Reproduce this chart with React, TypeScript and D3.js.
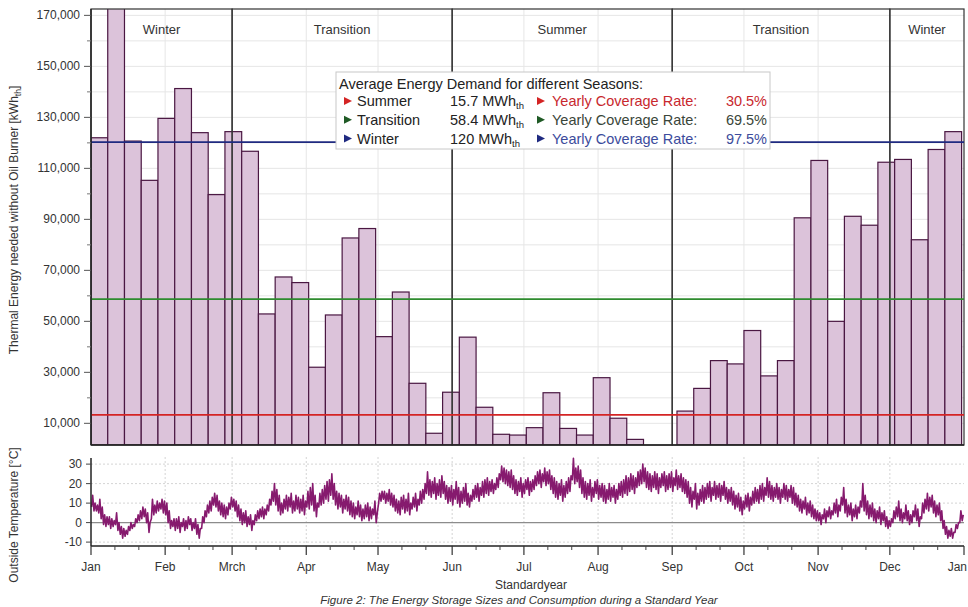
import * as d3 from "d3";

// weekly thermal energy demand [kWh_th], 52 weeks starting Jan 1
const weeklyDemand = [
  122000, 176000, 120700, 105300, 129600, 141300, 124000, 99700, 124400, 116700,
  52900, 67400, 65200, 32000, 52500, 82700, 86400, 44000, 61500, 25700,
  6100, 22200, 43800, 16300, 5700, 5400, 8300, 22000, 8000, 5400,
  27900, 12000, 3700, 0, 0, 14800, 23700, 34600, 33300, 46400,
  28600, 34600, 90600, 113100, 50000, 91200, 87700, 112400, 113500, 82000,
  117400, 124400,
];

// daily outside temperature, low / high [°C]
const tempLow = [
  8, 6, 6, 5, 2, -1, -2, -1, -3, -2,
  -1, -4, -6, -8, -7, -6, -4, -3, -2, 0,
  1, 2, 3, 0, -5, 2, 4, 5, 6, 7, 5, 4,
  0, -3, -2, -4, -3, -5, -2, -4, -3, -1, -4, -3, -6, -8,
  -3, 0, 3, 5, 6, 9, 8, 6, 4, 3, 2, 4, 7, 8,
  6, 3, 1, -1, 0, -2, -1, -4, -1, 1, 2, 3, 2, 4,
  6, 9, 11, 9, 6, 4, 5, 7, 6, 8, 5, 6, 7, 5, 6, 4, 8, 7, 9, 6, 3, 8,
  9, 10, 12, 11, 14, 12, 9, 7, 8, 5, 7, 6, 4,
  3, 2, 4, 3, 1, 2, 3, 1, 2, 4, 0,
  10, 11, 12, 10, 11, 9, 8,
  6, 5, 4, 7, 5, 6, 4, 7, 8, 6, 9, 10, 12,
  15, 14, 13, 15, 12, 14, 13, 15, 12, 10,
  11, 9, 12, 10, 8, 10, 11, 9, 8,
  11, 12, 13, 11, 14, 13, 15, 14, 16, 15, 17, 18,
  22, 21, 20, 19, 18, 17,
  15, 14, 16, 13, 15, 17, 14, 16, 17,
  19, 20, 18, 21, 19, 20, 17, 15,
  13, 12, 14, 11, 13, 15, 16,
  22, 20, 21, 18,
  15, 13, 12, 14, 11, 13, 15, 12, 13,
  11, 10, 12, 11, 13, 10, 12, 14,
  13, 15, 14, 16, 17, 15, 18, 19, 20, 21, 18, 17,
  16, 18, 17, 15, 18, 19, 16, 17, 18, 16, 19, 17, 18, 16, 15, 13,
  10, 8, 12, 7, 9, 11, 10,
  12, 13, 11, 14, 12, 13, 11, 14, 12, 10, 11,
  9, 7, 8, 6, 4, 7, 8, 6,
  9, 10, 11, 10, 12, 11, 14, 13, 12,
  11, 13, 12, 10, 13, 12, 11, 13, 10, 9, 8,
  6, 5, 7, 4, 5, 3, 2, 1,
  1, -1, 2, 0, 3, 2,
  4, 5, 3, 6, 9,
  5, 3, 4, 1, 3, 2, 5, 8,
  6, 4, 2, 3, 1, 0, 2, -1, 1, -2, -3, -2,
  0, 2, 3, 1, 0, 2, 1, -1, 0, 3, 1, -2, 2,
  5, 7, 6, 8, 5, 3, 4, 1,
  -3, -6, -8, -7, -8, -5, -3,
  0, 1,
];
const tempHigh = [
  14, 10, 9, 12, 8, 4, 3, 3, 2, 1,
  5, 0, -2, -3, -4, -2, 0, -1, 2, 4,
  6, 8, 7, 5, 0, 12, 9, 11, 10, 12, 11, 10,
  6, 1, 2, 2, 3, 0, 2, 1, 3, 2, 0, 2, -1, -3,
  3, 6, 9, 11, 13, 15, 14, 11, 10, 9, 8, 10, 13, 12,
  11, 9, 7, 5, 6, 3, 4, 1, 4, 6, 7, 8, 7, 9,
  12, 16, 20, 17, 14, 10, 12, 14, 13, 15, 11, 14, 13, 12, 14, 11, 16, 18, 20, 14, 10, 15,
  17, 19, 21, 22, 25, 20, 16, 15, 14, 12, 14, 13, 11,
  10, 8, 11, 9, 7, 9, 10, 8, 7, 11, 5,
  15, 16, 16, 15, 17, 15, 14,
  12, 11, 13, 14, 12, 15, 10, 13, 15, 12, 16, 17, 20,
  26, 22, 21, 23, 20, 22, 24, 21, 19, 18,
  19, 17, 21, 18, 16, 18, 20, 15, 14,
  17, 19, 20, 18, 21, 22, 23, 21, 22, 20, 23, 25,
  29, 28, 27, 26, 27, 24,
  22, 21, 23, 20, 22, 23, 21, 22, 24,
  26, 27, 25, 28, 26, 27, 24, 23,
  21, 20, 22, 19, 21, 23, 24,
  33, 28, 29, 27,
  23, 21, 20, 22, 18, 21, 22, 19, 20,
  19, 17, 20, 18, 19, 17, 20, 21,
  22, 24, 23, 25, 24, 23, 26, 27, 30, 28, 26, 25,
  24, 26, 25, 23, 25, 26, 24, 25, 26, 23, 27, 24, 25, 23, 22, 21,
  18, 16, 20, 15, 17, 19, 18,
  20, 21, 18, 21, 19, 20, 19, 21, 18, 17, 18,
  16, 14, 15, 13, 11, 14, 15, 13,
  16, 18, 17, 19, 20, 18, 23, 21, 19,
  18, 20, 18, 17, 20, 19, 17, 19, 18, 15, 14,
  12, 11, 13, 10, 11, 9, 7, 6,
  5, 4, 7, 6, 8, 6,
  10, 12, 9, 13, 18,
  12, 9, 10, 7, 9, 8, 11, 20,
  14, 11, 9, 10, 7, 6, 8, 5, 6, 3, 1, 2,
  6, 8, 11, 7, 5, 9, 6, 4, 6, 9, 7, 3, 10,
  12, 15, 13, 14, 11, 9, 10, 6,
  1, -2, -4, -3, -5, -1, 0,
  6, 4,
];

const seasonNames = ["Winter", "Transition", "Summer", "Transition", "Winter"];
const seasonStartDay = [0, 59, 151, 243, 334, 365];

const monthLabels = ["Jan", "Feb", "Mrch", "Apr", "May", "Jun", "Jul", "Aug", "Sep", "Oct", "Nov", "Dec", "Jan"];
const monthStartDay = [0, 31, 59, 90, 120, 151, 181, 212, 243, 273, 304, 334, 365];

const energyTicks = [10000, 30000, 50000, 70000, 90000, 110000, 130000, 150000, 170000];
const energyMinorTicks = [20000, 40000, 60000, 80000, 100000, 120000, 140000, 160000];
const tempTicks = [30, 20, 10, 0, -10];

const legendSeasons = ["Summer", "Transition", "Winter"];
const legendDemand = ["15.7", "58.4", "120"];
const legendRate = ["30.5%", "69.5%", "97.5%"];
const averageLine = [13300, 58700, 120300];

const seasonColor = ["#d42424", "#2e8b2e", "#1f2a80"];
const markerColor = ["#d42424", "#1f5a25", "#1f2a80"];
const rateColor = ["#c8282e", "#3a463a", "#3c4c9c"];

const FONT = "'Liberation Sans', Arial, sans-serif";

export default function App() {
  const left = 91;
  const right = 964;
  const x = d3.scaleLinear().domain([0, 365]).range([left, right]);
  const yE = d3.scaleLinear().domain([1500, 172500]).range([445, 9]);
  const yT = d3.scaleLinear().domain([-12, 33.5]).range([546, 457.3]);
  const fmt = d3.format(",");

  const tempPts: [number, number][] = [];
  tempLow.forEach((lo, i) => {
    tempPts.push([i + 0.25, lo]);
    tempPts.push([i + 0.7, tempHigh[i]]);
  });
  const tempLine = d3
    .line<[number, number]>()
    .x((d) => x(d[0]))
    .y((d) => yT(d[1]))(tempPts);

  const gridE = d3.range(10000, 171000, 10000);
  const minorX: number[] = [];
  monthStartDay.slice(0, 12).forEach((m) => {
    minorX.push(m + 10, m + 20);
  });

  return (
    <svg
      width={968}
      height={607}
      style={{ position: "absolute", left: 0, top: 0, background: "#fff" }}
      fontFamily={FONT}
    >
      <defs>
        <clipPath id="plot-clip">
          <rect x={left} y={yE.range()[1]} width={right - left} height={445 - 9} />
        </clipPath>
      </defs>

      {/* top panel grid */}
      <g stroke="#e6e6e6" strokeWidth={1}>
        {gridE.map((v) => (
          <line key={v} x1={left} x2={right} y1={yE(v)} y2={yE(v)} />
        ))}
        {monthStartDay.slice(1, 12).map((d) => (
          <line key={d} x1={x(d)} x2={x(d)} y1={9} y2={445} />
        ))}
      </g>

      {/* bars */}
      <g clipPath="url(#plot-clip)">
        {weeklyDemand.map((v, i) =>
          v > 0 ? (
            <rect
              key={i}
              x={x(i * 7)}
              y={yE(v)}
              width={x(i * 7 + 7) - x(i * 7)}
              height={445 - yE(v)}
              fill="#dcc3da"
              stroke="#4a1742"
              strokeWidth={1.2}
            />
          ) : null
        )}
      </g>

      {/* seasons */}
      <g>
        {seasonNames.map((s, i) => (
          <g key={i}>
            <rect
              x={x(seasonStartDay[i])}
              y={9}
              width={x(seasonStartDay[i + 1]) - x(seasonStartDay[i])}
              height={445 - 9}
              fill="none"
              stroke="#333"
              strokeWidth={1.2}
            />
            <text
              x={(x(seasonStartDay[i]) + x(seasonStartDay[i + 1])) / 2}
              y={33.5}
              fontSize={13}
              textAnchor="middle"
              fill="#333"
            >
              {s}
            </text>
          </g>
        ))}
      </g>

      {/* average lines */}
      {averageLine.map((v, i) => (
        <line key={i} x1={left} x2={right} y1={yE(v)} y2={yE(v)} stroke={seasonColor[i]} strokeWidth={1.6} />
      ))}

      {/* top y axis */}
      <g>
        <line x1={left} x2={left} y1={9} y2={445} stroke="#222" strokeWidth={1.5} />
        <line x1={left} x2={right} y1={445} y2={445} stroke="#222" strokeWidth={1.5} />
        {energyTicks.map((v) => (
          <g key={v}>
            <line x1={left - 7} x2={left} y1={yE(v)} y2={yE(v)} stroke="#555" />
            <text x={80} y={yE(v) + 4} fontSize={12} textAnchor="end" fill="#333">
              {fmt(v)}
            </text>
          </g>
        ))}
        {energyMinorTicks.map((v) => (
          <line key={v} x1={left - 4} x2={left} y1={yE(v)} y2={yE(v)} stroke="#777" />
        ))}
        <text transform="translate(18,220) rotate(-90)" textAnchor="middle" fontSize={12} fill="#333">
          Thermal Energy needed without Oil Burner [kWh
          <tspan fontSize={8.5} dy={3}>th</tspan>
          <tspan dy={-3}>]</tspan>
        </text>
      </g>

      {/* legend */}
      <g>
        <rect x={336} y={72} width={434} height={77} fill="#fff" stroke="#c8c8c8" />
        <text x={339} y={88.5} fontSize={14.5} fill="#222">
          Average Energy Demand for different Seasons:
        </text>
        {legendSeasons.map((s, i) => {
          const by = 106 + i * 18.8;
          return (
            <g key={s}>
              <path d={`M344,${by - 9}L352,${by - 5}L344,${by - 1}Z`} fill={markerColor[i]} />
              <text x={357} y={by} fontSize={14.5} fill="#222">
                {s}
              </text>
              <text x={450} y={by} fontSize={14.5} fill="#222">
                {legendDemand[i]} MWh
                <tspan fontSize={9.5} dy={3}>th</tspan>
              </text>
              <path d={`M537,${by - 9}L545,${by - 5}L537,${by - 1}Z`} fill={markerColor[i]} />
              <text x={552} y={by} fontSize={14.5} fill={rateColor[i]}>
                Yearly Coverage Rate:
              </text>
              <text x={767} y={by} fontSize={14.5} textAnchor="end" fill={rateColor[i]}>
                {legendRate[i]}
              </text>
            </g>
          );
        })}
      </g>

      {/* bottom panel */}
      <g>
        {monthStartDay.slice(1, 12).map((d) => (
          <line key={d} x1={x(d)} x2={x(d)} y1={457} y2={546} stroke="#d4d4d4" strokeDasharray="2,2" />
        ))}
        {tempTicks.map((t) => (
          <line
            key={t}
            x1={left}
            x2={right}
            y1={yT(t)}
            y2={yT(t)}
            stroke={t === 0 ? "#8c8c8c" : "#d4d4d4"}
            strokeDasharray={t === 0 ? undefined : "2,2"}
            strokeWidth={t === 0 ? 1.2 : 1}
          />
        ))}
        <path d={tempLine ?? ""} fill="none" stroke="#861a6e" strokeWidth={1.6} strokeLinejoin="round" />
        <line x1={left} x2={left} y1={458} y2={546} stroke="#222" strokeWidth={1.5} />
        <line x1={left} x2={right} y1={546} y2={546} stroke="#222" strokeWidth={1.5} />
        {tempTicks.map((t) => (
          <g key={t}>
            <line x1={left - 5} x2={left} y1={yT(t)} y2={yT(t)} stroke="#444" />
            <text x={82} y={yT(t) + 4} fontSize={12} textAnchor="end" fill="#333">
              {t}
            </text>
          </g>
        ))}
        {monthStartDay.map((d, i) => {
          const last = i === monthStartDay.length - 1;
          return (
            <g key={i}>
              <line x1={x(d)} x2={x(d)} y1={546} y2={555} stroke="#333" strokeWidth={1.2} />
              <text
                x={last ? 967 : x(d)}
                y={571}
                fontSize={12}
                textAnchor={last ? "end" : "middle"}
                fill="#333"
              >
                {monthLabels[i]}
              </text>
            </g>
          );
        })}
        {minorX.map((d) => (
          <line key={d} x1={x(d)} x2={x(d)} y1={546} y2={550} stroke="#444" />
        ))}
        <text transform="translate(18,515) rotate(-90)" textAnchor="middle" fontSize={12} fill="#333">
          Outside Temperature [°C]
        </text>
        <text x={531} y={589} fontSize={12} textAnchor="middle" fill="#333">
          Standardyear
        </text>
        <text x={519} y={604} fontSize={11.5} textAnchor="middle" fontStyle="italic" fill="#333">
          Figure 2: The Energy Storage Sizes and Consumption during a Standard Year
        </text>
      </g>
    </svg>
  );
}
